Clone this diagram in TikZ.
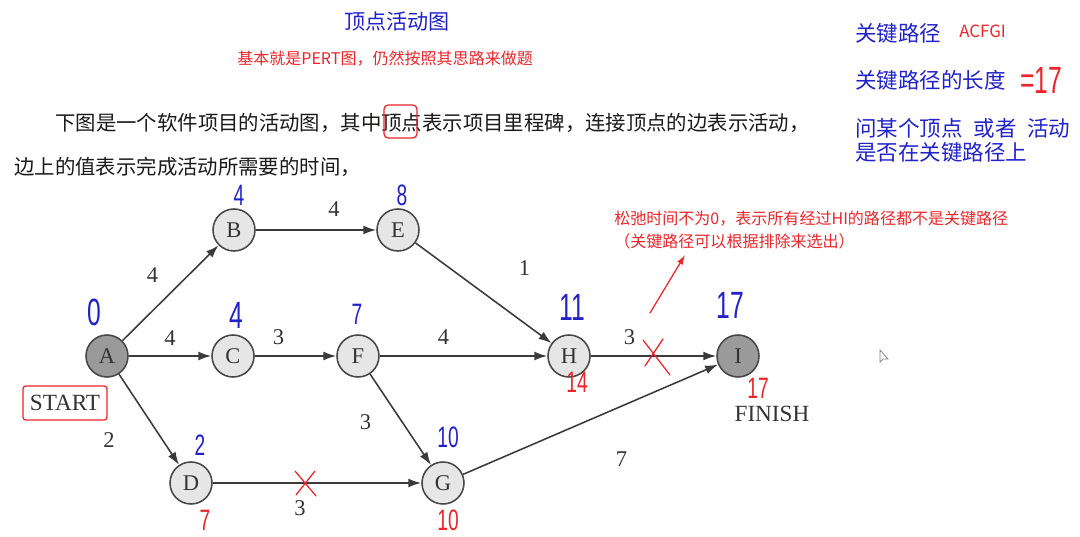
\documentclass[tikz,border=0pt]{standalone}
\usepackage{fontspec}
\setmainfont{Liberation Serif}
\newfontfamily\cjk{Noto Sans CJK SC}
\newfontfamily\hand[FakeStretch=0.65]{Liberation Sans}
\usetikzlibrary{arrows.meta}
\definecolor{node-fill}{HTML}{E6E6E6}
\definecolor{node-dark}{HTML}{9A9A9A}
\definecolor{ring-gray}{HTML}{474747}
\definecolor{edge-gray}{HTML}{3A3A3A}
\definecolor{label-gray}{HTML}{333333}
\definecolor{ink-blue}{HTML}{2222C8}
\definecolor{ink-red}{HTML}{E8262B}
\definecolor{body-text}{HTML}{1A1A1A}

\begin{document}
\begin{tikzpicture}[x=0.025cm, y=-0.025cm,
      vtx/.style={circle, draw=ring-gray, line width=1.1pt, fill=node-fill,
        minimum size=1.05cm, inner sep=0pt, text=label-gray,
        font=\fontsize{16}{16}\selectfont},
      endvtx/.style={vtx, fill=node-dark},
      act/.style={draw=edge-gray, line width=1.1pt,
        -{Latex[length=3.2mm, width=2.2mm]}},
      wt/.style={text=label-gray, inner sep=1pt,
        font=\fontsize{16}{16}\selectfont},
      body/.style={anchor=west, inner sep=0pt, text=body-text,
        font=\cjk\fontsize{14.5}{18}\selectfont},
      say/.style={anchor=west, inner sep=0pt, text=ink-blue, align=left,
        font=\cjk\fontsize{15.3}{17}\selectfont},
      note/.style={anchor=west, inner sep=0pt, text=ink-red, align=left,
        font=\cjk\fontsize{11.4}{17}\selectfont},
      hw/.style={inner sep=0pt, text=ink-blue, font=\hand\fontsize{21}{21}\selectfont},
      hwbig/.style={hw, font=\hand\fontsize{27}{27}\selectfont},
      pen/.style={draw=ink-red, line width=0.9pt, line cap=round}]
    \fill[white] (0,0) rectangle (1080,537);
    \useasboundingbox (0,0) rectangle (1080,537);

    % heading and question text
    \node[text=ink-blue, font=\cjk\fontsize{15}{15}\selectfont]
          (title) at (397,22) {顶点活动图};
    \node[note] (hint) at (237,59) {基本就是PERT图，仍然按照其思路来做题};
    \node[body] (para1) at (55,123)
          {下图是一个软件项目的活动图，其中顶点表示项目里程碑，连接顶点的边表示活动，};
    \node[body] (para2) at (14,167) {边上的值表示完成活动所需要的时间，};
    \draw[pen, rounded corners=3pt] (384,105) rectangle (417,138);

    % side notes
    \node[say] (crit) at (855,33) {关键路径};
    \node[anchor=west, inner sep=0pt, text=ink-red,
          font=\cjk\fontsize{12}{14}\selectfont] (critpath) at (959,31) {ACFGI};
    \node[say] (critlen) at (855,80) {关键路径的长度};
    \node[hwbig, text=ink-red, anchor=west] (critval) at (1020,80) {=17};
    \node[say] (ask) at (855,140)
          {问某个顶点\hspace{.5em}或者\hspace{.5em}活动\\是否在关键路径上};

    % activity graph
    \node[endvtx] (A) at (107,356) {A};
    \node[vtx] (B) at (234,230) {B};
    \node[vtx] (C) at (233,356) {C};
    \node[vtx] (D) at (191,483) {D};
    \node[vtx] (E) at (398,230) {E};
    \node[vtx] (F) at (358,356) {F};
    \node[vtx] (G) at (443,483) {G};
    \node[vtx] (H) at (569,356) {H};
    \node[endvtx] (I) at (738,356) {I};

    \node[wt, draw=ink-red, line width=0.9pt, rounded corners=2pt,
          minimum width=2.1cm, minimum height=0.85cm,
          font=\fontsize{16.5}{16.5}\selectfont] (start) at (65,403) {START};
    \node[wt, font=\fontsize{16.5}{16.5}\selectfont] (finish) at (772,414) {FINISH};

    \draw[act] (A) -- (B) node[wt, midway, shift={(-18,-18)}] (wAB) {4};
    \draw[act] (A) -- (C) node[wt, midway, shift={(0,-18)}] (wAC) {4};
    \draw[act] (A) -- (D) node[wt, midway, shift={(-40,21)}] (wAD) {2};
    \draw[act] (B) -- (E) node[wt, midway, shift={(18,-21)}] (wBE) {4};
    \draw[act] (C) -- (F) node[wt, midway, shift={(-17,-19)}] (wCF) {3};
    \draw[act] (E) -- (H) node[wt, midway, shift={(41,-25)}] (wEH) {1};
    \draw[act] (F) -- (H) node[wt, midway, shift={(-20,-19)}] (wFH) {4};
    \draw[act] (F) -- (G) node[wt, midway, shift={(-35,3)}] (wFG) {3};
    \draw[act] (D) -- (G) node[wt, midway, shift={(-17,25)}] (wDG) {3};
    \draw[act] (H) -- (I) node[wt, midway, shift={(-24,-19)}] (wHI) {3};
    \draw[act] (G) -- (I) node[wt, midway, shift={(31,40)}] (wGI) {7};

    % earliest times (blue) and latest times (red)
    \node[hwbig] (eA) at (94,312) {0};
    \node[hw] (eB) at (239,195) {4};
    \node[hwbig] (eC) at (236,315) {4};
    \node[hw] (eD) at (200,445) {2};
    \node[hw] (eE) at (402,195) {8};
    \node[hw] (eF) at (357,314) {7};
    \node[hw] (eG) at (448,437) {10};
    \node[hwbig] (eH) at (572,307) {11};
    \node[hwbig] (eI) at (730,305) {17};
    \node[hw, text=ink-red] (lD) at (205,520) {7};
    \node[hw, text=ink-red] (lG) at (448,520) {10};
    \node[hw, text=ink-red] (lH) at (577,382) {14};
    \node[hw, text=ink-red] (lI) at (758,388) {17};

    % crossed out activities and slack remark
    \draw[pen] (295,471) -- (316,496) (315,471) -- (296,495);
    \draw[pen] (643,340) -- (670,375) (663,339) -- (645,366);
    \node[note] (slack) at (614,230)
          {松弛时间不为0，表示所有经过HI的路径都不是关键路径\\（关键路径可以根据排除来选出）};
    \coordinate (slackTail) at (650,313);
    \coordinate (slackTip) at (685,255);
    \draw[pen, -{Latex[length=2.4mm, width=1.6mm]}] (slackTail) -- (slackTip);

    % mouse pointer
    \draw[line width=0.5pt, draw=gray, fill=white]
          (880,350) -- (880,362) -- (883,359) -- (888,359) -- cycle;
  \end{tikzpicture}
\end{document}
